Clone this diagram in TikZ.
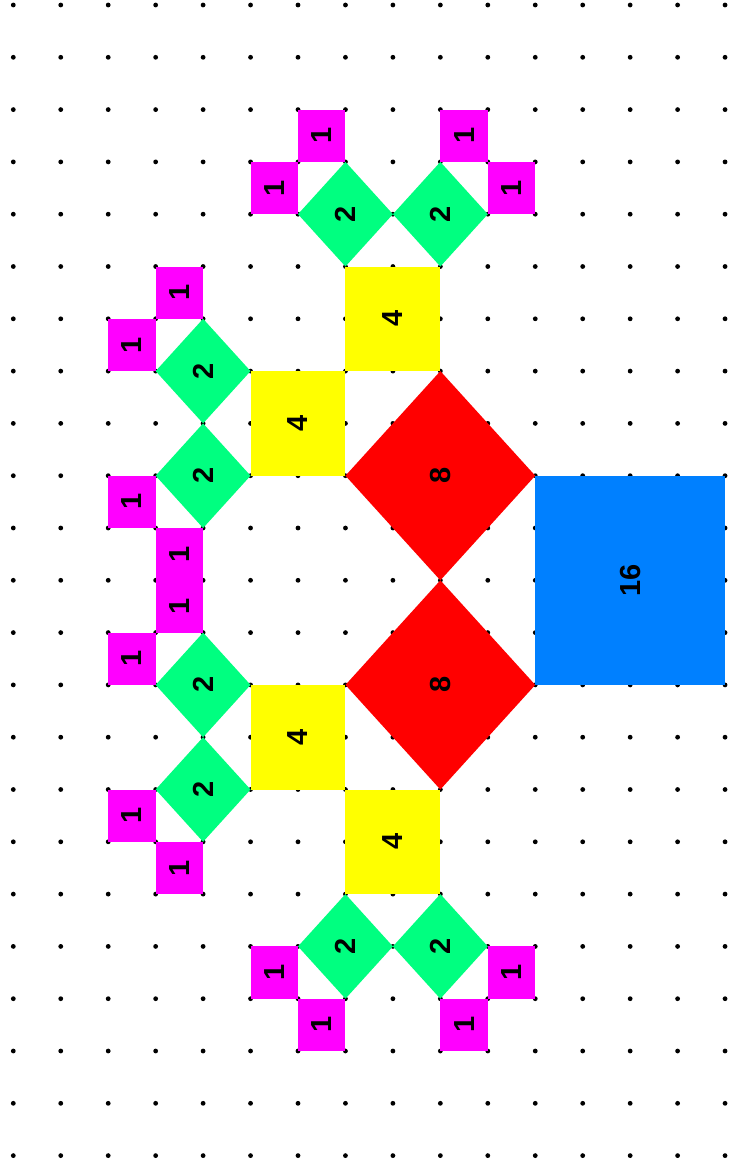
\documentclass[tikz,border=0pt]{standalone}
\usepackage{fontspec}
\setmainfont{Liberation Sans}
\definecolor{cBlue}{RGB}{0,128,255}
\definecolor{cRed}{RGB}{255,0,0}
\definecolor{cYellow}{RGB}{255,255,0}
\definecolor{cGreen}{RGB}{0,255,128}
\definecolor{cMagenta}{RGB}{255,0,255}
\tikzset{
  griddot/.style={fill=black},
  lbl/.style={rotate=90, font=\fontsize{29}{32}\selectfont\bfseries, inner sep=0pt},
  blueSq/.style={fill=cBlue},
  redSq/.style={fill=cRed},
  yellowSq/.style={fill=cYellow},
  greenSq/.style={fill=cGreen},
  magSq/.style={fill=cMagenta}
}
\begin{document}
\begin{tikzpicture}[x=47.45pt, y=-52.3pt]
\fill[white] (-0.2803,-0.0956) rectangle (15.1254,22.2562);
\useasboundingbox (-0.2803,-0.0956) rectangle (15.1254,22.2562);
% dot grid
\foreach \i in {0,...,15}{
  \foreach \j in {0,...,22}{
    \fill[griddot] (\i,\j) circle[radius=2.4pt];
  }
}
% blue square
\fill[blueSq] (11,9) rectangle (15,13);
\node[lbl] (b16) at (13,11) {16};
% red diamonds
\foreach \cx/\cy/\nm in {9/9/ra, 9/13/rb}{
  \fill[redSq] (\cx+2,\cy) -- (\cx,\cy+2) -- (\cx-2,\cy) -- (\cx,\cy-2) -- cycle;
  \node[lbl] (\nm) at (\cx,\cy) {8};
}
% yellow squares
\foreach \x/\y/\nm in {5/7/ya, 7/5/yb, 5/13/yc, 7/15/yd}{
  \fill[yellowSq] (\x,\y) rectangle ++(2,2);
  \node[lbl] (\nm) at (\x+1,\y+1) {4};
}
% green diamonds
\foreach \cx/\cy/\nm in {7/4/ga, 9/4/gb, 4/7/gc, 4/9/gd, 4/13/ge, 4/15/gf, 7/18/gg, 9/18/gh}{
  \fill[greenSq] (\cx+1,\cy) -- (\cx,\cy+1) -- (\cx-1,\cy) -- (\cx,\cy-1) -- cycle;
  \node[lbl] (\nm) at (\cx,\cy) {2};
}
% magenta squares
\foreach \x/\y/\nm in {5/3/m1, 6/2/m2, 9/2/m3, 10/3/m4, 2/6/m5, 3/5/m6, 2/9/m7, 3/10/m8,
  2/12/m9, 3/11/m10, 2/15/m11, 3/16/m12, 5/18/m13, 6/19/m14, 9/19/m15, 10/18/m16}{
  \fill[magSq] (\x,\y) rectangle ++(1,1);
  \node[lbl] (\nm) at (\x+0.5,\y+0.5) {1};
}
\end{tikzpicture}
\end{document}
